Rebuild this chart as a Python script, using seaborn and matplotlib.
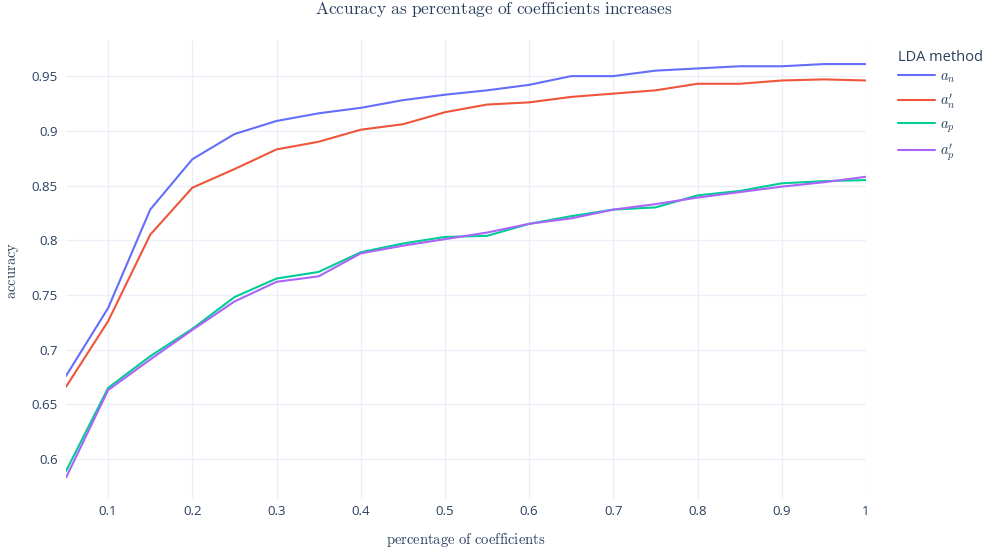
import pandas as pd
import matplotlib
matplotlib.use("Agg")
import matplotlib.pyplot as plt
import seaborn as sns

# percentage of coefficients kept
pct = [0.05, 0.1, 0.15, 0.2, 0.25, 0.3, 0.35, 0.4, 0.45, 0.5,
       0.55, 0.6, 0.65, 0.7, 0.75, 0.8, 0.85, 0.9, 0.95, 1.0]

# accuracy per LDA method
acc_an = [0.676, 0.738, 0.828, 0.874, 0.897, 0.909, 0.916, 0.921, 0.928, 0.933,
          0.937, 0.942, 0.950, 0.950, 0.955, 0.957, 0.959, 0.959, 0.961, 0.961]
acc_an2 = [0.666, 0.726, 0.805, 0.848, 0.865, 0.883, 0.890, 0.901, 0.906, 0.917,
           0.924, 0.926, 0.931, 0.934, 0.937, 0.943, 0.943, 0.946, 0.947, 0.946]
acc_ap = [0.589, 0.665, 0.694, 0.719, 0.748, 0.765, 0.771, 0.789, 0.797, 0.803,
          0.804, 0.815, 0.822, 0.828, 0.830, 0.841, 0.845, 0.852, 0.854, 0.855]
acc_ap2 = [0.583, 0.663, 0.691, 0.718, 0.744, 0.762, 0.767, 0.788, 0.795, 0.801,
           0.807, 0.815, 0.820, 0.828, 0.833, 0.839, 0.844, 0.849, 0.853, 0.858]

methods = [r"$a_n$", r"$a_n^{\prime}$", r"$a_p$", r"$a_p^{\prime}$"]
colors = ["#636EFA", "#EF553B", "#00CC96", "#AB63FA"]

df = pd.DataFrame({
    "pct": pct * 4,
    "acc": acc_an + acc_an2 + acc_ap + acc_ap2,
    "method": [m for m in methods for _ in pct],
})

sns.set_theme(style="white")
plt.rcParams["font.family"] = ["Open Sans", "DejaVu Sans"]
plt.rcParams["mathtext.fontset"] = "cm"

text_col = "#2a3f5f"
grid_col = "#EBF0F8"

fig = plt.figure(figsize=(9.87, 5.52), dpi=100)
ax = fig.add_axes([66 / 987, 1 - 499 / 552, 800 / 987, 459 / 552])

sns.lineplot(data=df, x="pct", y="acc", hue="method", palette=colors,
             linewidth=1.5, ax=ax)

ax.set_xlim(0.05, 1.0)
ax.set_ylim(0.5635, 0.983)
ax.set_xticks([0.1, 0.2, 0.3, 0.4, 0.5, 0.6, 0.7, 0.8, 0.9, 1.0])
ax.set_xticklabels(["0.1", "0.2", "0.3", "0.4", "0.5", "0.6", "0.7", "0.8", "0.9", "1"])
ax.set_yticks([0.6, 0.65, 0.7, 0.75, 0.8, 0.85, 0.9, 0.95])
ax.set_yticklabels(["0.6", "0.65", "0.7", "0.75", "0.8", "0.85", "0.9", "0.95"])
ax.tick_params(axis="x", length=0, labelsize=9.5, labelcolor=text_col, pad=4)
ax.tick_params(axis="y", length=0, labelsize=9.5, labelcolor=text_col, pad=6)
ax.grid(True, color=grid_col, linewidth=1)
ax.set_axisbelow(True)
for s in ax.spines.values():
    s.set_visible(False)

ax.set_xlabel(r"$\mathrm{percentage\ of\ coefficients}$", fontsize=10.5,
              color=text_col, labelpad=10)
ax.set_ylabel(r"$\mathrm{accuracy}$", fontsize=10.5, color=text_col)
ax.yaxis.set_label_coords(21 / 987, 1 - 270 / 552, transform=fig.transFigure)

fig.text(0.5, 1 - 14 / 552, r"$\mathrm{Accuracy\ as\ percentage\ of\ coefficients\ increases}$",
         ha="center", va="baseline", fontsize=12.5, color=text_col)

handles, labels = ax.get_legend_handles_labels()
ax.legend_.remove()
leg = fig.legend(handles, labels, title="LDA method", loc="upper left",
                 bbox_to_anchor=(888 / 987, 1 - 40 / 552), frameon=False,
                 fontsize=10.5, title_fontsize=10.5, handlelength=2.5,
                 handletextpad=0.4, labelspacing=0.45, alignment="left",
                 borderpad=0.2)
leg.get_title().set_color(text_col)
leg._legend_box.sep = 3
for t in leg.get_texts():
    t.set_color(text_col)

fig.savefig("out.png", dpi=100)
